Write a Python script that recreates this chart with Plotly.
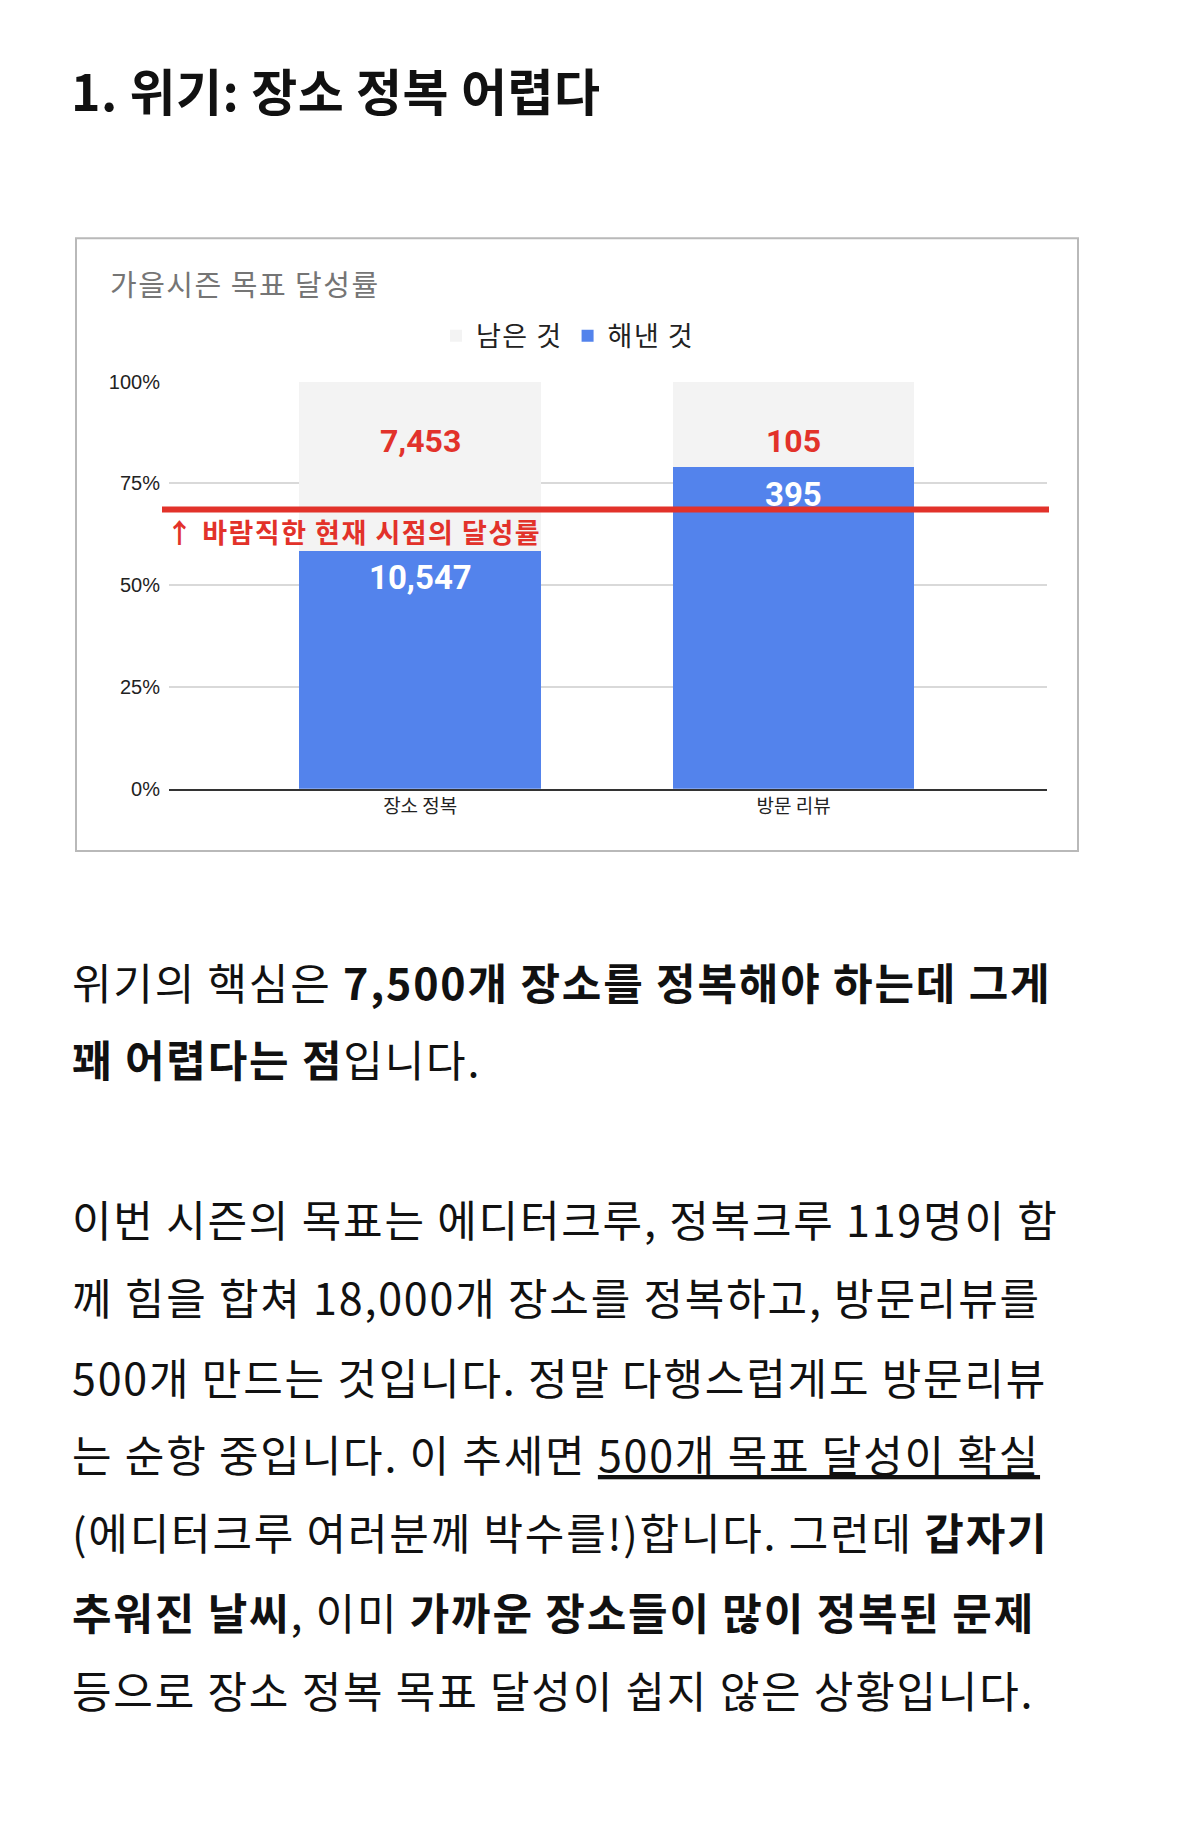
import plotly.graph_objects as go

# chart data
categories = ["장소 정복", "방문 리뷰"]
done_counts = [10547, 395]
left_counts = [7453, 105]
target_rate = 0.686  # 바람직한 현재 시점의 달성률

page_title = "1. 위기: 장소 정복 어렵다"
chart_title = "가을시즌 목표 달성률"
target_label = "↑ 바람직한 현재 시점의 달성률"

body_lines = [
    "위기의 핵심은 <b>7,500개 장소를 정복해야 하는데 그게</b>",
    "<b>꽤 어렵다는 점</b>입니다.",
    "이번 시즌의 목표는 에디터크루, 정복크루 119명이 함",
    "께 힘을 합쳐 18,000개 장소를 정복하고, 방문리뷰를",
    "500개 만드는 것입니다. 정말 다행스럽게도 방문리뷰",
    "는 순항 중입니다. 이 추세면 <u>500개 목표 달성이 확실</u>",
    "(에디터크루 여러분께 박수를!)합니다. 그런데 <b>갑자기</b>",
    "<b>추워진 날씨</b>, 이미 <b>가까운 장소들이 많이 정복된 문제</b>",
    "등으로 장소 정복 목표 달성이 쉽지 않은 상황입니다.",
]
body_y = [990, 1068, 1230, 1309, 1389, 1467, 1546, 1627, 1706]

W, H = 1179, 1833
DX, DY = 9, 16  # page offset of the plot div
KR = "Noto Sans CJK KR"
NUM = "Roboto, Noto Sans CJK KR"
BLUE = "#5383ec"
GRAY = "#f3f3f3"
RED = "#e2322a"


def px(x):
    return (x - DX) / W


def py(y):
    return 1 - (y - DY) / H


def spaced(text, ls):
    return f"<span style='letter-spacing:{ls}px'>{text}</span>"


totals = [d + l for d, l in zip(done_counts, left_counts)]
done_frac = [d / t for d, t in zip(done_counts, totals)]
left_frac = [l / t for l, t in zip(left_counts, totals)]

fig = go.Figure()
fig.add_trace(go.Bar(x=categories, y=done_frac, name=spaced("해낸 것", 1.5),
                     marker=dict(color=BLUE, line=dict(width=0)), width=0.648))
fig.add_trace(go.Bar(x=categories, y=left_frac, name=spaced("남은 것", 1.5),
                     marker=dict(color=GRAY, line=dict(width=0)), width=0.648))

annotations = []
# value labels
for cat, d, l, f in zip(categories, done_counts, left_counts, done_frac):
    annotations.append(dict(x=cat, y=f, xref="x", yref="y", text=f"<b>{d:,}</b>",
                            showarrow=False, yshift=-27,
                            font=dict(family=NUM, size=33, color="white")))
    annotations.append(dict(x=cat, y=1, xref="x", yref="y", text=f"<b>{l:,}</b>",
                            showarrow=False, yshift=-59,
                            font=dict(family=NUM, size=32, color=RED)))

annotations.append(dict(x=px(165), y=target_rate, xref="paper", yref="y",
                        text=f"<b>{spaced(target_label, 1.5)}</b>", showarrow=False,
                        xanchor="left", yanchor="top", yshift=-1,
                        font=dict(family=KR, size=27, color=RED)))

annotations.append(dict(x=px(109), y=py(283), xref="paper", yref="paper",
                        text=spaced(chart_title, 1.5), showarrow=False,
                        xanchor="left", yanchor="middle",
                        font=dict(family=KR, size=29, color="#757575")))

annotations.append(dict(x=px(70), y=py(87), xref="paper", yref="paper",
                        text=f"<b>{spaced(page_title, 0.5)}</b>", showarrow=False,
                        xanchor="left", yanchor="middle",
                        font=dict(family=KR, size=50, color="#111111")))

for line, yy in zip(body_lines, body_y):
    annotations.append(dict(x=px(71), y=py(yy), xref="paper", yref="paper",
                            text=spaced(line, 1.8), showarrow=False,
                            xanchor="left", yanchor="middle",
                            font=dict(family=KR, size=43, color="#111111")))

shapes = [
    # chart frame
    dict(type="rect", xref="paper", yref="paper", x0=px(77), x1=px(1079),
         y0=py(858), y1=py(238), line=dict(color="#b9b9b9", width=2), layer="below"),
    # target line
    dict(type="line", xref="paper", yref="y", x0=px(163), x1=px(1050),
         y0=target_rate, y1=target_rate, line=dict(color=RED, width=6)),
]

fig.update_layout(
    width=W, height=H,
    margin=dict(l=0, r=0, t=0, b=0),
    paper_bgcolor="white", plot_bgcolor="white",
    barmode="stack", bargap=0,
    showlegend=True,
    legend=dict(orientation="h", x=px(437), y=py(337), xanchor="left", yanchor="middle",
                traceorder="reversed", font=dict(family=KR, size=27, color="#222222"),
                itemclick=False, bgcolor="rgba(0,0,0,0)"),
    xaxis=dict(domain=[px(170), px(1048)], range=[-0.673, 1.679],
               showline=True, linecolor="#333333", linewidth=2,
               showgrid=False, ticks="",
               tickfont=dict(family=KR, size=19, color="#222222")),
    yaxis=dict(domain=[py(795), py(383)], range=[0, 1],
               tickvals=[0, 0.25, 0.5, 0.75, 1], tickformat=".0%",
               showgrid=True, gridcolor="#d9d9d9", gridwidth=1.5,
               zeroline=False, ticks="", ticklabelstandoff=8,
               tickfont=dict(family="Liberation Sans, Arial", size=20, color="#222222")),
    annotations=annotations,
    shapes=shapes,
)

fig.write_html("out.html")
